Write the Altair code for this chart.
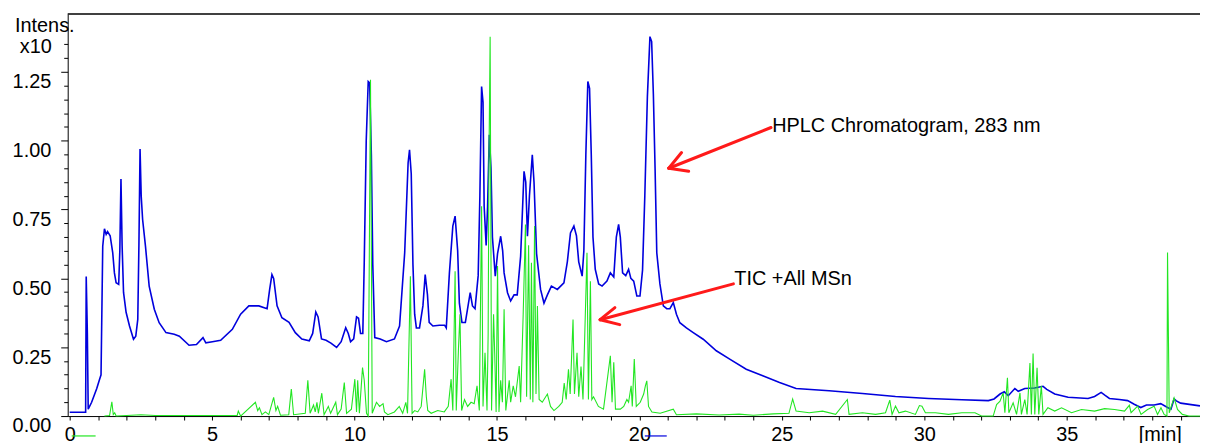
import altair as alt
import pandas as pd

# ---------------- data ----------------
blue_t = [0.00, 0.56, 0.58, 0.62, 0.65, 0.77, 0.95, 1.05, 1.10, 1.16, 1.22, 1.28, 1.33, 1.42, 1.51,
          1.57, 1.63, 1.72, 1.76, 1.80, 1.84, 1.89, 1.98, 2.10, 2.24, 2.32, 2.39, 2.43, 2.47, 2.51,
          2.56, 2.66, 2.79, 2.97, 3.14, 3.38, 3.67, 3.85, 4.19, 4.45, 4.68, 4.78, 5.01, 5.30, 5.71,
          6.00, 6.29, 6.64, 6.93, 7.02, 7.10, 7.16, 7.28, 7.45, 7.70, 7.92, 8.15, 8.41, 8.53, 8.64,
          8.72, 8.84, 9.00, 9.17, 9.37, 9.53, 9.69, 9.78, 9.86, 9.97, 10.07, 10.14, 10.21, 10.29,
          10.34, 10.41, 10.48, 10.53, 10.59, 10.64, 10.71, 10.90, 11.12, 11.40, 11.58, 11.76, 11.88,
          11.93, 11.99, 12.05, 12.11, 12.17, 12.28, 12.40, 12.48, 12.56, 12.62, 12.75, 12.98, 13.16,
          13.22, 13.33, 13.45, 13.53, 13.62, 13.68, 13.77, 13.89, 14.00, 14.06, 14.14, 14.23, 14.34,
          14.40, 14.46, 14.51, 14.55, 14.62, 14.67, 14.73, 14.79, 14.84, 14.94, 15.02, 15.13, 15.20,
          15.25, 15.37, 15.48, 15.60, 15.71, 15.83, 15.95, 16.01, 16.07, 16.14, 16.24, 16.30, 16.39,
          16.53, 16.65, 16.77, 16.91, 17.12, 17.35, 17.47, 17.58, 17.70, 17.79, 17.87, 17.99, 18.05,
          18.12, 18.19, 18.25, 18.31, 18.37, 18.45, 18.57, 18.69, 18.86, 18.98, 19.10, 19.19, 19.27,
          19.33, 19.41, 19.52, 19.62, 19.70, 19.80, 19.91, 20.02, 20.11, 20.19, 20.28, 20.37, 20.43,
          20.49, 20.55, 20.61, 20.72, 20.84, 20.96, 21.07, 21.19, 21.30, 21.42, 21.65, 21.89, 22.24,
          22.70, 23.17, 23.75, 24.33, 24.92, 25.50, 26.66, 27.83, 28.99, 30.15, 31.32, 32.25, 32.45,
          32.66, 32.81, 32.95, 33.18, 33.30, 33.53, 33.87, 34.17, 34.30, 34.58, 35.05, 35.75, 35.98,
          36.21, 36.35, 36.50, 36.85, 37.14, 37.37, 37.60, 37.80, 38.07, 38.30, 38.54, 38.66, 38.77,
          38.85, 39.00, 39.68]
blue_v = [0.014, 0.014, 0.507, 0.30, 0.025, 0.05, 0.10, 0.134, 0.15, 0.617, 0.68, 0.66, 0.67, 0.655, 0.594,
          0.52, 0.484, 0.478, 0.60, 0.861, 0.62, 0.449, 0.377, 0.327, 0.279, 0.29, 0.351, 0.62, 0.970, 0.80,
          0.714, 0.617, 0.472, 0.388, 0.339, 0.303, 0.297, 0.29, 0.257, 0.26, 0.285, 0.266, 0.27, 0.275, 0.315,
          0.37, 0.40, 0.40, 0.39, 0.46, 0.514, 0.50, 0.40, 0.357, 0.34, 0.303, 0.28, 0.273, 0.30, 0.378,
          0.36, 0.28, 0.275, 0.265, 0.249, 0.27, 0.321, 0.30, 0.27, 0.28, 0.36, 0.355, 0.30, 0.30,
          0.557, 1.0, 1.215, 1.21, 0.95, 0.55, 0.285, 0.28, 0.27, 0.28, 0.327, 0.593, 0.919,
          0.967, 0.88, 0.55, 0.37, 0.32, 0.32, 0.40, 0.514, 0.44, 0.34, 0.327, 0.33, 0.33,
          0.32, 0.52, 0.69, 0.726, 0.60, 0.41, 0.34, 0.34, 0.41, 0.448, 0.40, 0.39, 0.51,
          0.80, 1.197, 1.14, 0.762, 0.62, 0.76, 1.022, 0.90, 0.65, 0.508, 0.59, 0.653, 0.60,
          0.52, 0.448, 0.418, 0.44, 0.44, 0.58, 0.889, 0.85, 0.653, 0.80, 0.949, 0.85, 0.59,
          0.46, 0.41, 0.44, 0.472, 0.46, 0.484, 0.56, 0.665, 0.69, 0.655, 0.56, 0.508, 0.60,
          0.95, 1.215, 1.19, 0.95, 0.65, 0.533, 0.48, 0.472, 0.49, 0.52, 0.505, 0.65, 0.696,
          0.65, 0.52, 0.51, 0.533, 0.50, 0.49, 0.436, 0.436, 0.53, 0.80, 1.16, 1.378, 1.36,
          1.17, 0.90, 0.593, 0.48, 0.40, 0.39, 0.39, 0.412, 0.37, 0.339, 0.32, 0.303, 0.279,
          0.237, 0.207, 0.170, 0.146, 0.122, 0.10, 0.092, 0.082, 0.071, 0.064, 0.059, 0.056, 0.062,
          0.08, 0.088, 0.074, 0.10, 0.09, 0.10, 0.102, 0.108, 0.097, 0.08, 0.068, 0.064, 0.071,
          0.086, 0.075, 0.064, 0.060, 0.056, 0.043, 0.031, 0.040, 0.040, 0.045, 0.031, 0.025, 0.062,
          0.055, 0.047, 0.037]

tic_t = [1.22, 1.40, 1.48, 1.53, 1.58, 1.63, 2.0, 2.5, 3.0, 4.0, 5.0, 5.88, 5.92, 6.00, 6.52, 6.60,
         6.66, 6.75, 6.87, 6.99, 7.16, 7.24, 7.30, 7.40, 7.69, 7.78, 7.86, 8.27, 8.36, 8.44, 8.56,
         8.62, 8.68, 8.73, 8.85, 8.93, 9.08, 9.16, 9.25, 9.34, 9.40, 9.53, 9.64, 9.72, 9.89, 10.01,
         10.07, 10.11, 10.17, 10.28, 10.34, 10.42, 10.48, 10.56, 10.62, 10.77, 10.88, 11.00, 11.05,
         11.17, 11.40, 11.57, 11.69, 11.80, 11.86, 11.96, 12.02, 12.11, 12.22, 12.34, 12.46, 12.52,
         12.57, 12.69, 12.92, 13.15, 13.29, 13.39, 13.45, 13.53, 13.57, 13.65, 13.70, 13.76, 13.86,
         13.97, 14.09, 14.20, 14.30, 14.38, 14.46, 14.51, 14.58, 14.65, 14.69, 14.72, 14.76, 14.81,
         14.88, 14.92, 14.97, 15.02, 15.07, 15.13, 15.19, 15.25, 15.31, 15.43, 15.48, 15.57, 15.65,
         15.78, 15.83, 15.92, 16.00, 16.04, 16.11, 16.17, 16.21, 16.26, 16.32, 16.37, 16.42, 16.48,
         16.59, 16.77, 16.88, 17.00, 17.17, 17.29, 17.36, 17.43, 17.51, 17.57, 17.67, 17.72, 17.81,
         17.87, 17.95, 18.02, 18.16, 18.21, 18.28, 18.33, 18.39, 18.56, 18.74, 18.98, 19.04, 19.10,
         19.16, 19.33, 19.45, 19.56, 19.62, 19.71, 19.75, 19.82, 19.89, 20.03, 20.15, 20.21, 20.26,
         20.32, 20.44, 20.73, 21.19, 21.30, 22.0, 22.8, 23.5, 24.0, 24.7, 25.25, 25.38, 25.50,
         25.96, 26.43, 26.89, 27.30, 27.36, 27.83, 28.29, 28.64, 28.79, 28.87, 28.99, 29.11, 29.34,
         29.69, 29.83, 29.92, 30.04, 30.39, 30.85, 31.32, 31.78, 32.01, 32.42, 32.54, 32.66, 32.77,
         32.83, 32.92, 32.97, 33.12, 33.24, 33.36, 33.41, 33.53, 33.61, 33.71, 33.76, 33.82, 33.88,
         33.96, 34.02, 34.11, 34.17, 34.34, 34.58, 34.82, 35.17, 35.52, 35.98, 36.33, 36.68, 37.03,
         37.20, 37.26, 37.49, 37.61, 37.84, 38.07, 38.19, 38.31, 38.42, 38.52, 38.54, 38.60, 38.77,
         38.89, 39.06, 39.29, 39.68]
tic_v = [0.0, 0.002, 0.052, 0.005, 0.012, 0.0, 0.002, 0.005, 0.002, 0.002, 0.002, 0.002, 0.018, 0.0, 0.05, 0.02,
         0.03, 0.005, 0.015, 0.005, 0.068, 0.02, 0.035, 0.003, 0.005, 0.098, 0.005, 0.01, 0.13, 0.01, 0.04,
         0.015, 0.05, 0.01, 0.083, 0.005, 0.035, 0.01, 0.03, 0.05, 0.005, 0.025, 0.122, 0.01, 0.025, 0.134,
         0.015, 0.13, 0.01, 0.176, 0.13, 0.01, 0.0, 1.221, 0.01, 0.05, 0.035, 0.045, 0.015,
         0.005, 0.015, 0.035, 0.01, 0.05, 0.01, 0.508, 0.01, 0.02, 0.015, 0.035, 0.17, 0.07,
         0.02, 0.01, 0.02, 0.015, 0.035, 0.134, 0.02, 0.526, 0.02, 0.25, 0.37, 0.02, 0.06,
         0.035, 0.05, 0.045, 0.11, 0.02, 0.762, 0.035, 0.23, 0.02, 0.30, 0.95, 1.378, 0.02,
         0.37, 0.23, 0.015, 0.545, 0.015, 0.13, 0.05, 0.388, 0.02, 0.13, 0.05, 0.11, 0.07,
         0.182, 0.05, 0.37, 0.696, 0.07, 0.62, 0.06, 0.557, 0.05, 0.69, 0.08, 0.40, 0.06,
         0.05, 0.08, 0.035, 0.02, 0.035, 0.05, 0.12, 0.06, 0.17, 0.08, 0.351, 0.08, 0.23,
         0.07, 0.18, 0.06, 0.593, 0.06, 0.49, 0.06, 0.07, 0.035, 0.025, 0.219, 0.05, 0.195,
         0.025, 0.025, 0.035, 0.06, 0.05, 0.11, 0.035, 0.207, 0.035, 0.05, 0.08, 0.11, 0.128,
         0.035, 0.015, 0.01, 0.025, 0.005, 0.008, 0.004, 0.007, 0.003, 0.008, 0.01, 0.062, 0.018,
         0.012, 0.018, 0.006, 0.06, 0.006, 0.012, 0.006, 0.012, 0.058, 0.006, 0.036, 0.012, 0.018,
         0.006, 0.038, 0.036, 0.012, 0.012, 0.006, 0.012, 0.012, 0.0, 0.0, 0.042, 0.054, 0.084,
         0.012, 0.139, 0.012, 0.048, 0.006, 0.084, 0.006, 0.06, 0.006, 0.193, 0.006, 0.227, 0.006,
         0.175, 0.006, 0.110, 0.006, 0.030, 0.018, 0.030, 0.012, 0.024, 0.018, 0.027, 0.024, 0.018,
         0.039, 0.012, 0.036, 0.006, 0.024, 0.036, 0.006, 0.030, 0.006, 0.0, 0.594, 0.012, 0.066,
         0.024, 0.006, 0.0, 0.0]

x_ticks = list(range(0, 40))
y_ticks = [round(i * 0.05, 2) for i in range(28)]

# annotation: arrow segments (shaft + two head strokes) in data units
arrow_x = [24.62, 21.03, 21.03, 23.30, 18.62, 18.62]
arrow_y = [1.048, 0.900, 0.900, 0.480, 0.350, 0.350]
arrow_x2 = [21.03, 21.48, 21.73, 18.62, 19.14, 19.31]
arrow_y2 = [0.900, 0.957, 0.889, 0.350, 0.394, 0.332]

label_text = ["HPLC Chromatogram, 283 nm", "TIC +All MSn"]
label_t = [24.66, 23.33]
label_v = [1.030, 0.477]

# stray legend stubs below the axis
stub_t = [0.07, 20.19]
stub_t2 = [0.91, 20.96]
stub_c = ["#22e622", "#0000dd"]

W, H = 1138, 404
FONT = "Liberation Sans"
BLUE = "#0000dd"
GREEN = "#22e622"
RED = "#ff1a1a"

blue_df = pd.DataFrame({"t": blue_t, "v": blue_v})
tic_df = pd.DataFrame({"t": tic_t, "v": tic_v})
arrow_df = pd.DataFrame({"t": arrow_x, "v": arrow_y, "t2": arrow_x2, "v2": arrow_y2})
label_df = pd.DataFrame({"t": label_t, "v": label_v, "txt": label_text})
stub_df = pd.DataFrame({"t": stub_t, "t2": stub_t2, "c": stub_c})
one = pd.DataFrame({"a": [0]})

xs = alt.Scale(domain=[-0.07, 39.68], nice=False, zero=False)
ys = alt.Scale(domain=[0, 1.46], nice=False, zero=False)

major_y = "abs(datum.value*4 - round(datum.value*4)) < 0.001"
x_axis = alt.Axis(values=x_ticks, title=None, grid=False,
                  labelExpr="(datum.value % 5 == 0 && datum.value < 36) ? format(datum.value, 'd') : ''",
                  tickSize=4, labelPadding=5, labelOverlap=False, labelFlush=False,
                  labelFont=FONT, labelFontSize=20, labelColor="black",
                  domainColor="black", tickColor="black", tickWidth=1)
y_axis = alt.Axis(values=y_ticks, title=None, grid=False,
                  labelExpr="(" + major_y + ") ? format(datum.value, '.2f') : ''",
                  tickSize={"condition": {"test": major_y, "value": 7}, "value": 4},
                  labelPadding=10, labelBaseline="top", labelOverlap=False, labelFlush=False,
                  labelFont=FONT, labelFontSize=20, labelColor="black",
                  domainColor="black", tickColor="black", tickWidth=1)

X = alt.X("t:Q", scale=xs, axis=x_axis)
Y = alt.Y("v:Q", scale=ys, axis=y_axis)

blue = alt.Chart(blue_df).mark_line(color=BLUE, strokeWidth=1.6).encode(x=X, y=Y)
green = alt.Chart(tic_df).mark_line(color=GREEN, strokeWidth=1.1).encode(x=X, y=Y)

arrows = alt.Chart(arrow_df).mark_rule(color=RED, strokeWidth=3, strokeCap="round").encode(
    x=X, y=Y, x2="t2:Q", y2="v2:Q")

labels = alt.Chart(label_df).mark_text(align="left", baseline="alphabetic", font=FONT,
                                       fontSize=20, color="black").encode(
    x=X, y=Y, text="txt:N")

top_border = alt.Chart(one).mark_rule(color="black", strokeWidth=1.5).encode(
    x=alt.value(0), x2=alt.value(W), y=alt.value(0))

intens = alt.Chart(one).mark_text(align="left", baseline="top", font=FONT, fontSize=20,
                                  color="black", text="Intens.").encode(
    x=alt.value(-53), y=alt.value(2))
x10 = alt.Chart(one).mark_text(align="right", baseline="top", font=FONT, fontSize=20,
                               color="black", text="x10").encode(
    x=alt.value(-16), y=alt.value(23))
unit = alt.Chart(one).mark_text(align="center", baseline="top", font=FONT, fontSize=20,
                                color="black", text="[min]").encode(
    x=alt.value(1098), y=alt.value(H + 9))

stubs = alt.Chart(stub_df).mark_rule(strokeWidth=1.2, clip=False).encode(
    x=X, x2="t2:Q", y=alt.value(H + 20),
    color=alt.Color("c:N", scale=None))

chart = alt.layer(blue, green, arrows, labels, top_border, intens, x10, unit, stubs).properties(
    width=W, height=H,
    autosize=alt.AutoSizeParams(type="none"),
    padding={"left": 60, "top": 5, "right": 0, "bottom": 30},
).configure_view(stroke=None).configure_axis(labelOverlap=False)

chart.save("out.html", embed_options={"renderer": "svg", "actions": False})
